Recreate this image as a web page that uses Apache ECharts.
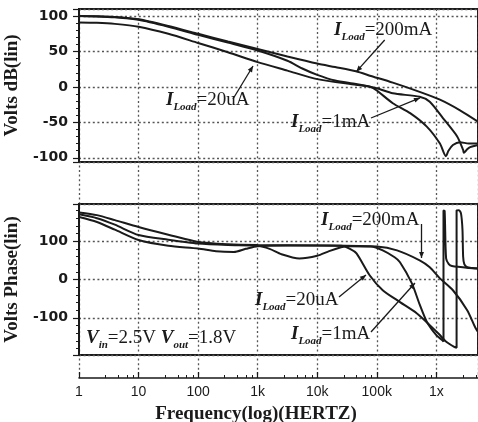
<!DOCTYPE html>
<html><head><meta charset="utf-8">
<script src="https://cdn.jsdelivr.net/npm/echarts@6/dist/echarts.min.js"></script>
<style>html,body{margin:0;padding:0;background:#fff}#c{width:478px;height:422px}</style>
</head><body><div id="c"></div>
<script>
// ---- data (frequency in Hz, value) ----
const tickLabels = {1:'1', 10:'10', 100:'100', 1000:'1k', 10000:'10k', 100000:'100k', 1000000:'1x'};

const mag20uA = [[1,91],[2,90.5],[4,89],[10,85],[31.6,75],[100,62],[316,49],[1000,35],[3160,23],[10000,11],[44700,3],[79400,0],[100000,-5],[186000,-23],[363000,-37],[692000,-56],[1150000,-80],[1450000,-98],[1600000,-90],[1900000,-82],[2500000,-78],[3500000,-80],[5010000,-80]];
const mag1mA = [[1,100],[2,99.5],[4,98.3],[10,94.8],[31.6,85],[100,73.5],[316,62.5],[1000,51.5],[3160,37],[5620,26],[10000,17],[20000,9],[44700,4],[100000,-2],[186000,-9],[525000,-14],[776000,-21],[1290000,-44],[2240000,-70],[2820000,-89],[2900000,-93],[3300000,-88],[3700000,-85],[5010000,-82]];
const mag200mA = [[1,100],[2,99.7],[4,98.8],[10,95.5],[31.6,86],[100,75],[316,64],[1000,53.5],[3160,43],[10000,33],[20000,28],[44700,22],[79400,15.5],[186000,6],[525000,-7],[1150000,-18],[2500000,-33],[5010000,-49]];

const ph20uA = [[1,163],[2,150],[4,130],[10,103],[31.6,88],[100,81],[200,74],[398,72],[631,80],[1000,87],[3162,89],[10000,89],[25119,88],[35481,80],[45709,68],[75858,11],[125893,-28],[245471,-59],[467735,-88],[776247,-119],[1150000,-145],[1450000,-162],[2000000,-176],[2190000,-178],[2190000,180],[2400000,181],[2600000,172],[2750000,130],[2820000,60],[2950000,40],[3300000,32],[4000000,30],[5010000,29]];
const ph1mA = [[1,170],[2,160],[4,143],[10,116],[31.6,104],[100,94],[316,90],[1000,88],[1585,80],[2512,66],[5012,55],[10000,62],[15849,74],[25119,84],[31623,87],[79433,86],[125893,76],[199526,58],[245471,45],[389045,-10],[524807,-65],[691831,-110],[1000000,-145],[1250000,-158],[1320000,-162],[1320000,180],[1380000,179],[1460000,55],[1620000,40],[1830000,35],[3550000,30],[5010000,29]];
const ph200mA = [[1,175],[2,168],[4,155],[10,137],[31.6,117],[100,98],[316,92],[1000,90],[10000,89],[100000,86],[219000,76],[525000,50],[776000,32],[1150000,3],[1900000,-28],[3300000,-80],[4470000,-124],[5010000,-137]];

// annotations (data coordinates)
const annotations = [
  {grid:0, parts:['I','Load','=200mA'], at:[19150,80.4], from:[135900,66.2], to:[45400,21.5]},
  {grid:0, parts:['I','Load','=20uA'], at:[28.9,-18.5], from:[385,-17.1], to:[836,29.5]},
  {grid:0, parts:['I','Load','=1mA'], at:[3630,-49.5], from:[80000,-43.9], to:[532000,-15.6]},
  {grid:1, parts:['I','Load','=200mA'], at:[11590,155.3], from:[564000,144.8], to:[564000,56.1]},
  {grid:1, parts:['I','Load','=20uA'], at:[902,-53.5], from:[23200,-45.7], to:[65900,11.7]},
  {grid:1, parts:['I','Load','=1mA'], at:[3630,-142.2], from:[80000,-137], to:[438500,-9.1]}
];
const condText = {grid:1, at:[1.31,-152.6]};

// ---- chart ----
const INK = '#1a1a1a';
const dotted = {color:'#555', width:1.3, type:[2,2.6]};
const serif = 'Liberation Serif';
const FMAX = 5011872;

function hiddenX(gi){
  return {type:'log', gridIndex:gi, min:1, max:FMAX, show:false, splitLine:{show:false}};
}
function yAx(gi, min, max, name){
  return {
    type:'value', gridIndex:gi, min:min, max:max,
    name:name, nameLocation:'middle', nameGap:45, nameRotate:90,
    nameTextStyle:{fontFamily:serif, fontWeight:'bold', fontSize:19, color:INK},
    axisLine:{show:true, lineStyle:{color:INK, width:2}},
    axisTick:{show:true, length:6, lineStyle:{color:INK, width:1.2}},
    minorTick:{show:true, splitNumber:5, length:3, lineStyle:{color:INK, width:1}},
    axisLabel:{fontFamily:'DejaVu Sans', fontWeight:'bold', fontSize:14, color:INK, margin:11, showMinLabel:false, showMaxLabel:false},
    splitLine:{show:true, lineStyle:dotted}
  };
}
function line(name, data, xi, yi){
  return {type:'line', name:name, data:data, xAxisIndex:xi, yAxisIndex:yi, showSymbol:false, smooth:0.25,
    lineStyle:{color:INK, width:2}, z:5};
}
const gridBase = {outerBoundsMode:'none', containLabel:false};

const chart = echarts.init(document.getElementById('c'), null, {renderer:'canvas'});
const option = {
  animation:false,
  backgroundColor:'#fff',
  grid:[
    Object.assign({left:79, top:9, width:399, height:153, show:true, borderColor:INK, borderWidth:2, backgroundColor:'transparent'}, gridBase),
    Object.assign({left:79, top:204, width:399, height:151, show:true, borderColor:INK, borderWidth:2, backgroundColor:'transparent'}, gridBase),
    Object.assign({left:79, top:9, width:399, height:369, show:false}, gridBase)
  ],
  xAxis:[
    hiddenX(0), hiddenX(1),
    {type:'log', gridIndex:2, min:1, max:FMAX, position:'bottom',
     name:'Frequency(log)(HERTZ)', nameLocation:'middle', nameGap:27,
     nameTextStyle:{fontFamily:serif, fontWeight:'bold', fontSize:19, color:INK, padding:[0,45,0,0]},
     axisLine:{show:true, lineStyle:{color:INK, width:1.5}},
     axisTick:{show:true, inside:true, length:6, lineStyle:{color:INK, width:1.2}},
     minorTick:{show:true, splitNumber:5, length:3, lineStyle:{color:INK, width:1}},
     axisLabel:{fontFamily:'Liberation Sans', fontSize:14, color:INK, margin:7,
       formatter:function(v){ const k = Math.round(v); return tickLabels[k] !== undefined ? tickLabels[k] : ''; }},
     splitLine:{show:true, lineStyle:dotted}
    }
  ],
  yAxis:[
    yAx(0, -106, 110, 'Volts dB(lin)'),
    yAx(1, -197, 197, 'Volts Phase(lin)'),
    {type:'value', gridIndex:2, min:0, max:1, show:false, splitLine:{show:false}}
  ],
  series:[
    line('20uA', mag20uA, 0, 0),
    line('1mA', mag1mA, 0, 0),
    line('200mA', mag200mA, 0, 0),
    line('20uA', ph20uA, 1, 1),
    line('1mA', ph1mA, 1, 1),
    line('200mA', ph200mA, 1, 1)
  ]
};
chart.setOption(option);

// annotation graphics, positioned through the axes
const richStyle = {
  i:{fontFamily:serif, fontStyle:'italic', fontWeight:'bold', fontSize:19, lineHeight:26, fill:INK},
  s:{fontFamily:serif, fontStyle:'italic', fontWeight:'bold', fontSize:11, lineHeight:13, verticalAlign:'bottom', fill:INK},
  n:{fontFamily:serif, fontSize:19, lineHeight:26, fill:INK}
};
const gfx = [];
function px(g, p){ return chart.convertToPixel({gridIndex:g}, p); }
annotations.forEach(function(a){
  const p = px(a.grid, a.at);
  gfx.push({type:'text', x:p[0], y:p[1], z:50,
    style:{text:'{i|'+a.parts[0]+'}{s|'+a.parts[1]+'}{n|'+a.parts[2]+'}', rich:richStyle, align:'left', verticalAlign:'middle', fill:INK}});
  const f = px(a.grid, a.from), t = px(a.grid, a.to);
  gfx.push({type:'line', z:50, shape:{x1:f[0], y1:f[1], x2:t[0], y2:t[1]}, style:{stroke:INK, lineWidth:1.3}});
  const ang = Math.atan2(t[1]-f[1], t[0]-f[0]), L = 6, W = 2.5;
  const bx = t[0]-L*Math.cos(ang), by = t[1]-L*Math.sin(ang);
  gfx.push({type:'polygon', z:50, shape:{points:[[t[0],t[1]],[bx+W*Math.sin(ang), by-W*Math.cos(ang)],[bx-W*Math.sin(ang), by+W*Math.cos(ang)]]}, style:{fill:INK}});
});
const cp = px(condText.grid, condText.at);
gfx.push({type:'text', x:cp[0], y:cp[1], z:50,
  style:{text:'{i|V}{s|in}{n|=2.5V }{i|V}{s|out}{n|=1.8V}', rich:richStyle, align:'left', verticalAlign:'middle', fill:INK}});
chart.setOption({graphic:gfx});
</script></body></html>
